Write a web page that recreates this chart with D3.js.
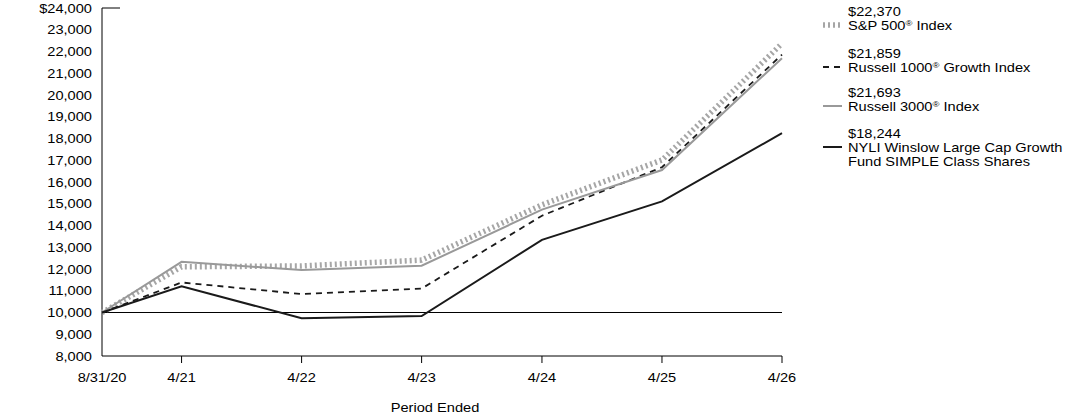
<!DOCTYPE html>
<html>
<head>
<meta charset="utf-8">
<script src="https://cdn.jsdelivr.net/npm/d3@7"></script>
<style>
  body { margin: 0; background: #fff; }
  svg text { font-family: "Liberation Sans", Arial, sans-serif; fill: #000; font-size: 12.5px; }
</style>
</head>
<body>
<svg id="chart"></svg>
<script>
// Data
const dates = ["2020-08-31", "2021-04-30", "2022-04-30", "2023-04-30", "2024-04-30", "2025-04-30", "2026-04-30"];
const tickLabels = ["8/31/20", "4/21", "4/22", "4/23", "4/24", "4/25", "4/26"];
const sp500 = [10000, 12100, 12140, 12410, 14950, 17010, 22370];
const russell1000g = [10000, 11380, 10850, 11100, 14450, 16680, 21859];
const russell3000 = [10000, 12330, 11950, 12150, 14730, 16550, 21693];
const fund = [10000, 11200, 9740, 9840, 13340, 15110, 18244];
const yTicks = d3.range(8000, 24001, 1000);

const seriesDefs = [
    { name: "S&P 500", sup: "®", suffix: " Index", value: "$22,370", data: sp500, color: "#a6a6a6", width: 5.5, dash: "2,3" },
    { name: "Russell 1000", sup: "®", suffix: " Growth Index", value: "$21,859", data: russell1000g, color: "#1a1a1a", width: 1.8, dash: "6,5" },
    { name: "Russell 3000", sup: "®", suffix: " Index", value: "$21,693", data: russell3000, color: "#999999", width: 2, dash: null },
    { name: "NYLI Winslow Large Cap Growth", sup: "", suffix: "", line2: "Fund SIMPLE Class Shares", value: "$18,244", data: fund, color: "#1a1a1a", width: 2, dash: null }
];

const W = 1092, H = 417;
const stretch = 1.17; // reference text is drawn a bit wide

const svg = d3.select("#chart").attr("width", W).attr("height", H);

// place a text with horizontal stretch
function putText(parent, x, y, anchor) {
    return parent.append("text")
        .attr("transform", `translate(${x},${y}) scale(${stretch},1)`)
        .attr("text-anchor", anchor || "start");
}

const parse = d3.timeParse("%Y-%m-%d");
const xDates = dates.map(parse);

const x = d3.scaleTime()
    .domain(d3.extent(xDates))
    .range([102, 782]);

const y = d3.scaleLinear()
    .domain([8000, 24000])
    .range([356, 8]);

// y axis labels
const yLab = svg.append("g");
yTicks.forEach(d => {
    putText(yLab, 92, y(d) + 4.5, "end")
        .text((d === 24000 ? "$" : "") + d3.format(",")(d));
});

// y axis line + top tick
svg.append("path")
    .attr("d", `M120,${y(24000)}H102V${y(8000)}`)
    .attr("fill", "none")
    .attr("stroke", "#000")
    .attr("stroke-width", 1);

// x axis line and ticks
svg.append("line")
    .attr("x1", 102).attr("x2", 782)
    .attr("y1", y(8000)).attr("y2", y(8000))
    .attr("stroke", "#000").attr("stroke-width", 1);

svg.append("g")
    .selectAll("line")
    .data(xDates.slice(1))
    .join("line")
    .attr("x1", d => x(d)).attr("x2", d => x(d))
    .attr("y1", y(8000)).attr("y2", y(8000) + 7)
    .attr("stroke", "#000").attr("stroke-width", 1);

const xLab = svg.append("g");
xDates.forEach((d, i) => {
    putText(xLab, x(d), 382, "middle").text(tickLabels[i]);
});

putText(svg, 435, 412, "middle").text("Period Ended");

// baseline at 10,000
svg.append("line")
    .attr("x1", 102).attr("x2", 782)
    .attr("y1", y(10000)).attr("y2", y(10000))
    .attr("stroke", "#000").attr("stroke-width", 1);

const line = d3.line()
    .x((d, i) => x(xDates[i]))
    .y(d => y(d));

seriesDefs.forEach(s => {
    svg.append("path")
        .datum(s.data)
        .attr("fill", "none")
        .attr("stroke", s.color)
        .attr("stroke-width", s.width)
        .attr("stroke-dasharray", s.dash)
        .attr("d", line);
});

// legend
const legendTop = [11, 53, 92, 133];
seriesDefs.forEach((s, i) => {
    const g = svg.append("g").attr("transform", `translate(0,${legendTop[i]})`);
    putText(g, 848, 4.5).text(s.value);
    const t = putText(g, 848, 18.5);
    t.append("tspan").text(s.name);
    if (s.sup) {
        t.append("tspan").attr("dy", -4).style("font-size", "8px").text(s.sup);
        t.append("tspan").attr("dy", 4).text(s.suffix);
    }
    if (s.line2) {
        putText(g, 848, 33).text(s.line2);
    }
    g.append("line")
        .attr("x1", 823).attr("x2", 842)
        .attr("y1", 14).attr("y2", 14)
        .attr("stroke", s.color)
        .attr("stroke-width", s.width)
        .attr("stroke-dasharray", s.dash);
});
</script>
</body>
</html>
